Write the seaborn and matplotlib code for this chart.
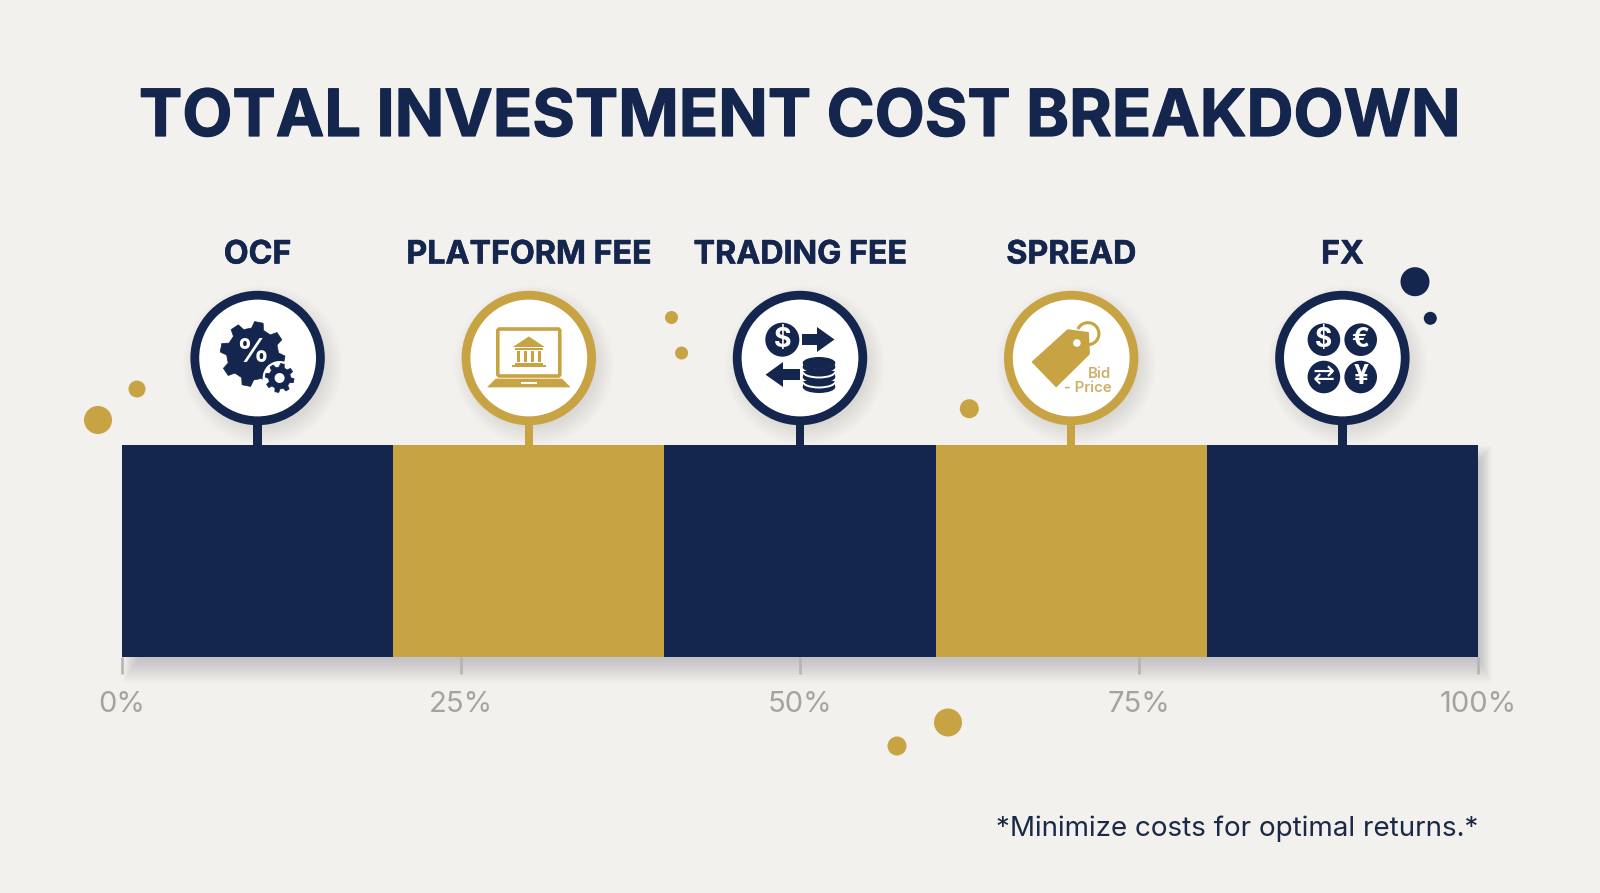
import numpy as np
import pandas as pd
import matplotlib
matplotlib.use("Agg")
import matplotlib.pyplot as plt
import matplotlib.patheffects as pe
import seaborn as sns
from matplotlib.patches import Circle, Rectangle, Polygon, Ellipse, Arc, FancyBboxPatch

# ---- data ----
categories = ["OCF", "PLATFORM FEE", "TRADING FEE", "SPREAD", "FX"]
shares = [20, 20, 20, 20, 20]
tick_values = [0, 25, 50, 75, 100]
tick_labels = ["0%", "25%", "50%", "75%", "100%"]
title_text = "TOTAL INVESTMENT COST BREAKDOWN"
note_text = "*Minimize costs for optimal returns.*"

NAVY = "#14264e"
GOLD = "#c7a344"
BG = "#f3f1ed"
TICK = "#b6b5b2"
TICKTXT = "#a4a3a0"
segment_colors = [NAVY, GOLD, NAVY, GOLD, NAVY]

sns.set_theme(style="white")
plt.rcParams["font.family"] = ["Inter", "DejaVu Sans"]

W, H = 1600, 893
L, R, T, B = 122, 1478, 445, 657
fig = plt.figure(figsize=(16, 8.93), dpi=100, facecolor=BG)


def overlay(z):
    a = fig.add_axes([0, 0, 1, 1], zorder=z)
    a.set_xlim(0, W)
    a.set_ylim(H, 0)
    a.axis("off")
    a.patch.set_alpha(0)
    return a


under = overlay(0)
ax = fig.add_axes([L / W, 1 - B / H, (R - L) / W, (B - T) / H], zorder=1)
top = overlay(2)

# ---- stacked bar ----
df = pd.DataFrame({"row": [0] * len(categories), "cost": categories, "share": shares})
sns.histplot(
    data=df, y="row", weights="share", hue="cost", hue_order=categories[::-1],
    palette=dict(zip(categories, segment_colors)), multiple="stack", discrete=True,
    shrink=1, alpha=1, linewidth=0, legend=False, ax=ax,
)
ax.set_xlim(0, 100)
ax.set_ylim(-0.5, 0.5)
ax.patch.set_alpha(0)
sns.despine(ax=ax, left=True, bottom=True, top=True, right=True)
ax.set_xlabel("")
ax.set_ylabel("")
ax.set_yticks([])
ax.set_xticks(tick_values, tick_labels)
ax.tick_params(axis="x", bottom=True, length=12.2, width=1.9, color=TICK, pad=12.5,
               labelsize=21, labelcolor=TICKTXT)
ax.grid(False)

# ---- bar shadow: soft, falling below and to the right ----
for i in range(18):
    g = float(i)
    under.add_patch(Rectangle((L + 18 - g, T + 18 - g), (R + g * 0.8) - (L + 18 - g), (B + g * 1.5) - (T + 18 - g),
                              fc="#4c4c5c", ec="none", alpha=0.016))

# ---- title, note ----
top.text(799.5, 119, title_text, ha="center", va="center", fontsize=46.8, fontweight="bold", color=NAVY,
         path_effects=[pe.withStroke(linewidth=0.9, foreground=NAVY)])
top.text(1478, 828.5, note_text, ha="right", va="center", fontsize=20, color="#1a2947")

# ---- decorative dots ----
dots = [(98, 420, 14, GOLD), (137, 389, 8.5, GOLD), (671.5, 317.5, 6.5, GOLD), (681.6, 353, 6.5, GOLD),
        (969.3, 408.7, 9.5, GOLD), (948, 722.5, 14, GOLD), (897, 746, 9.5, GOLD),
        (1415, 281.7, 14.5, NAVY), (1430.3, 318.3, 6.5, NAVY)]
for x, y, r, c in dots:
    top.add_patch(Circle((x, y), r, fc=c, ec="none"))

# ---- pins ----
cum = np.cumsum(shares)
mids = cum - np.array(shares) / 2
centers = L + (R - L) * mids / 100.0
CY = 358
RO = 67.2


def gear(cx, cy, ro, ri, n, c, z=5):
    pts = []
    step = 2 * np.pi / n
    for k in range(n):
        a = k * step + step / 4
        for da, r in ((-.30, ri), (-.17, ro), (.17, ro), (.30, ri)):
            t = a + da * step
            pts.append((cx + r * np.cos(t), cy + r * np.sin(t)))
    top.add_patch(Polygon(pts, closed=True, fc=c, ec=c, lw=.5, joinstyle="round", zorder=z))


def icon_ocf(x, y):
    gear(x - 5, y - 4, 32.5, 26, 8, NAVY)
    top.text(x - 5.5, y - 4.5, "%", ha="center", va="center", fontsize=23, fontweight="bold", color="white", zorder=6)
    top.add_patch(Circle((x + 22, y + 20), 17, fc="white", ec="none", zorder=6))
    gear(x + 22, y + 20, 14.5, 11, 8, NAVY, z=7)
    top.add_patch(Circle((x + 22, y + 20), 5, fc="white", ec="none", zorder=8))


def icon_platform(x, y):
    top.add_patch(FancyBboxPatch((x - 31, y - 29), 62, 47, boxstyle="round,pad=0,rounding_size=2",
                                 fc="white", ec=GOLD, lw=2.6, zorder=5))
    top.add_patch(Polygon([(x - 33, y + 21), (x + 33, y + 21), (x + 41, y + 29), (x - 41, y + 29)], fc=GOLD, ec=GOLD, lw=.5, zorder=5))
    top.add_patch(Rectangle((x - 8, y + 23.5), 16, 2.2, fc="white", ec="none", zorder=6))
    top.add_patch(Polygon([(x - 16, y - 11), (x, y - 21.5), (x + 16, y - 11)], fc=GOLD, ec="none", zorder=5))
    top.add_patch(Rectangle((x - 14, y - 10), 28, 2.2, fc=GOLD, ec="none", zorder=5))
    for dx in (-12, -5, 2, 9):
        top.add_patch(Rectangle((x + dx, y - 7), 3.6, 11, fc=GOLD, ec="none", zorder=5))
    top.add_patch(Rectangle((x - 14, y + 4.5), 28, 2, fc=GOLD, ec="none", zorder=5))
    top.add_patch(Rectangle((x - 17, y + 7), 34, 2.4, fc=GOLD, ec="none", zorder=5))


def icon_trading(x, y):
    top.add_patch(Circle((x - 17.7, y - 18.3), 17, fc=NAVY, ec="none", zorder=5))
    top.text(x - 17.7, y - 17.6, "$", ha="center", va="center", fontsize=19.5, fontweight="bold", color="white", zorder=6)
    top.add_patch(Polygon([(x + 2, y - 24), (x + 17, y - 24), (x + 17, y - 31), (x + 34.5, y - 18.5),
                           (x + 17, y - 6), (x + 17, y - 13), (x + 2, y - 13)], fc=NAVY, ec="none", zorder=5))
    top.add_patch(Polygon([(x, y + 11), (x - 17, y + 11), (x - 17, y + 4), (x - 34.5, y + 16.7),
                           (x - 17, y + 29), (x - 17, y + 22), (x, y + 22)], fc=NAVY, ec="none", zorder=5))
    cx = x + 19
    for cy in (y + 28, y + 18, y + 8):
        top.add_patch(Rectangle((cx - 16.3, cy - 5), 32.6, 6, fc=NAVY, ec="none", zorder=5))
        top.add_patch(Ellipse((cx, cy + 1), 32.6, 12, fc=NAVY, ec="none", zorder=5))
        top.add_patch(Arc((cx, cy - 4.5), 32.6, 12, theta1=0, theta2=180, ec="white", lw=1.4, zorder=5.5))
    top.add_patch(Ellipse((cx, y + 5), 32.6, 12, fc=NAVY, ec="none", zorder=6))


def icon_spread(x, y):
    top.add_patch(Arc((x + 16.7, y - 24.3), 22, 22, theta1=205, theta2=130, ec=GOLD, lw=2.2, zorder=5))
    top.add_patch(Polygon([(x - 38.3, y + 4), (x - 3.3, y - 27.7), (x + 16.7, y - 25), (x + 17.7, y - 4.3), (x - 15, y + 28)],
                          closed=True, fc=GOLD, ec=GOLD, lw=1.5, joinstyle="round", zorder=6))
    top.add_patch(Circle((x + 5.7, y - 15), 3.8, fc="white", ec="none", zorder=7))
    top.text(x + 40, y + 15.5, "Bid", ha="right", va="center", fontsize=10.8, fontweight="semibold", color="#cdb06a", zorder=7)
    top.text(x + 40, y + 30.5, "- Price", ha="right", va="center", fontsize=10.8, fontweight="semibold", color="#cdb06a", zorder=7)


def icon_fx(x, y):
    offs = [(-18.5, -18.3, "$"), (18.3, -18.3, "€"), (-18.5, 19, "⇄"), (18.3, 19, "¥")]
    for dx, dy, s in offs:
        top.add_patch(Circle((x + dx, y + dy), 16.3, fc=NAVY, ec="none", zorder=5))
        if s == "⇄":
            top.text(x + dx, y + dy, s, ha="center", va="center", fontsize=19, color="white",
                     family=["DejaVu Sans"], zorder=6)
        else:
            top.text(x + dx, y + dy + .4, s, ha="center", va="center", fontsize=19, fontweight="bold",
                     color="white", zorder=6)


icons = [icon_ocf, icon_platform, icon_trading, icon_spread, icon_fx]
for name, x, col, icon in zip(categories, centers, segment_colors, icons):
    top.text(x, 255, name, ha="center", va="center", fontsize=23.2, fontweight="bold", color=NAVY,
             path_effects=[pe.withStroke(linewidth=0.4, foreground=NAVY)])
    for i in range(12):
        under.add_patch(Circle((x + 5, CY + 7), RO - 5 + i * 1.6, fc="#55555f", ec="none", alpha=0.012))
    top.add_patch(Rectangle((x - 4.2, CY + RO - 2), 8.4, T - (CY + RO) + 3, fc=col, ec="none", zorder=2))
    top.add_patch(Circle((x, CY), RO - 4.4, fc="white", ec=col, lw=8.8 * .72, zorder=3))
    icon(x, CY)

fig.savefig("out.png", dpi=100, facecolor=BG)
